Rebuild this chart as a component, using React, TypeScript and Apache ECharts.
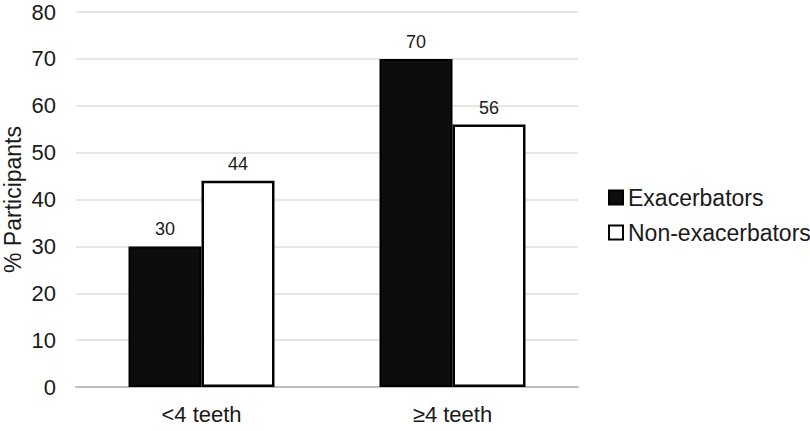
import React, { useEffect, useRef } from "react";
import * as echarts from "echarts";

const categories = ["<4 teeth", "≥4 teeth"];
const exacerbators = [30, 70];
const nonExacerbators = [44, 56];
const seriesNames = ["Exacerbators", "Non-exacerbators"];

const FONT = "Liberation Sans, Arial, sans-serif";
const TEXT = "#1a1a1a";

export default function App() {
  const ref = useRef<HTMLDivElement>(null);
  useEffect(() => {
    document.body.style.margin = "0";
    if (!ref.current) return;
    const chart = echarts.init(ref.current, undefined, { renderer: "svg" });
    const label = {
      show: true,
      position: "top",
      distance: 8,
      fontSize: 18,
      fontFamily: FONT,
      color: TEXT,
    };
    chart.setOption({
      animation: false,
      backgroundColor: "#ffffff",
      textStyle: { fontFamily: FONT },
      grid: {
        left: 76,
        right: 232,
        top: 12,
        bottom: 44,
        containLabel: false,
        outerBoundsMode: "none",
      },
      legend: {
        orient: "vertical",
        left: 603,
        top: 181,
        itemWidth: 14,
        itemHeight: 14,
        itemGap: 12,
        icon: "rect",
        textStyle: { fontSize: 23, fontFamily: FONT, color: TEXT, padding: [0, 0, 0, 0] },
        data: seriesNames,
      },
      xAxis: {
        type: "category",
        data: categories,
        axisTick: { show: false },
        axisLine: { lineStyle: { color: "#bfbfbf", width: 2 } },
        axisLabel: { fontSize: 22, fontFamily: FONT, color: TEXT, margin: 16 },
      },
      yAxis: {
        type: "value",
        min: 0,
        max: 80,
        interval: 10,
        name: "% Participants",
        nameLocation: "middle",
        nameGap: 52,
        nameMoveOverlap: false,
        nameTextStyle: { fontSize: 23, fontFamily: FONT, color: TEXT },
        axisLine: { show: false },
        axisTick: { show: false },
        axisLabel: { fontSize: 22, fontFamily: FONT, color: TEXT, margin: 20 },
        splitLine: { lineStyle: { color: "#dedede", width: 1.5 } },
      },
      series: [
        {
          name: seriesNames[0],
          type: "bar",
          data: exacerbators,
          barWidth: 73,
          barGap: "0%",
          itemStyle: { color: "#0d0d0d", borderColor: "#000000", borderWidth: 2 },
          label,
        },
        {
          name: seriesNames[1],
          type: "bar",
          data: nonExacerbators,
          barWidth: 73,
          barGap: "0%",
          itemStyle: { color: "#ffffff", borderColor: "#000000", borderWidth: 2.5 },
          label,
        },
      ],
    });
    return () => chart.dispose();
  }, []);
  return <div ref={ref} style={{ width: 810, height: 431 }} />;
}
